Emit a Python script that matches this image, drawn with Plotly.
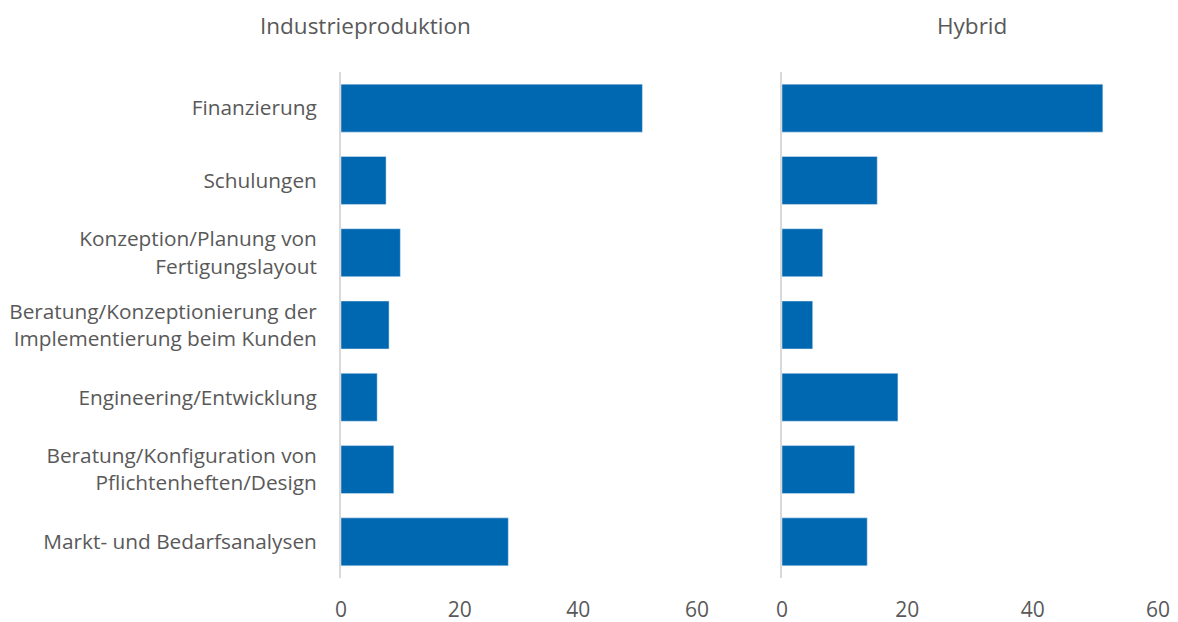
import plotly.graph_objects as go
from plotly.subplots import make_subplots

categories = [
    "Finanzierung",
    "Schulungen",
    "Konzeption/Planung von<br>Fertigungslayout",
    "Beratung/Konzeptionierung der<br>Implementierung beim Kunden",
    "Engineering/Entwicklung",
    "Beratung/Konfiguration von<br>Pflichtenheften/Design",
    "Markt- und Bedarfsanalysen",
]
industrie = [50.8, 7.6, 10.0, 8.1, 6.1, 8.9, 28.2]
hybrid = [51.2, 15.2, 6.5, 4.9, 18.5, 11.6, 13.6]
titles = ["Industrieproduktion", "Hybrid"]
tick_vals = [0, 20, 40, 60]

color = "#0067B1"
font_fam = "Open Sans"
txt = "#595959"

# page body adds an 8px offset; figure coords = screen coords - 8
W, H = 1170, 614
L, R, T, B = 333, 20, 64, 44
pw = W - L - R
ph = H - T - B

fig = make_subplots(rows=1, cols=2, shared_yaxes=False, horizontal_spacing=0.0)
fig.add_trace(go.Bar(y=categories, x=industrie, orientation="h", marker_color=color,
                     showlegend=False), row=1, col=1)
fig.add_trace(go.Bar(y=categories, x=hybrid, orientation="h", marker_color=color,
                     showlegend=False), row=1, col=2)

axis_common = dict(range=[0, 60], tickvals=tick_vals, showgrid=False, zeroline=False,
                   showline=False, tickfont=dict(size=21, color=txt, family=font_fam),
                   ticks="", ticklabelstandoff=17, automargin=False)
fig.update_layout(
    xaxis=dict(domain=[0, 356 / pw], **axis_common),
    xaxis2=dict(domain=[441 / pw, 1.0], **axis_common),
    yaxis=dict(autorange="reversed", showgrid=False, zeroline=False, showline=True,
               linecolor="#d9d9d9", linewidth=2, ticks="", ticklabelstandoff=18,
               automargin=False,
               tickfont=dict(size=20.8, color=txt, family=font_fam)),
    yaxis2=dict(autorange="reversed", showgrid=False, zeroline=False, showline=True,
                linecolor="#d9d9d9", linewidth=2, showticklabels=False, ticks="",
                automargin=False),
    bargap=0.336,
    width=W, height=H,
    margin=dict(l=L, r=R, t=T, b=B),
    plot_bgcolor="white", paper_bgcolor="white",
    font=dict(family=font_fam, color=txt),
)
for t, xc in zip(titles, [365, 972]):
    fig.add_annotation(text=t, x=(xc - 8 - L) / pw, y=1 + (72 - 25) / ph,
                       xref="paper", yref="paper", showarrow=False,
                       xanchor="center", yanchor="middle",
                       font=dict(size=22.5, color=txt, family=font_fam))

fig.write_html("out.html")
